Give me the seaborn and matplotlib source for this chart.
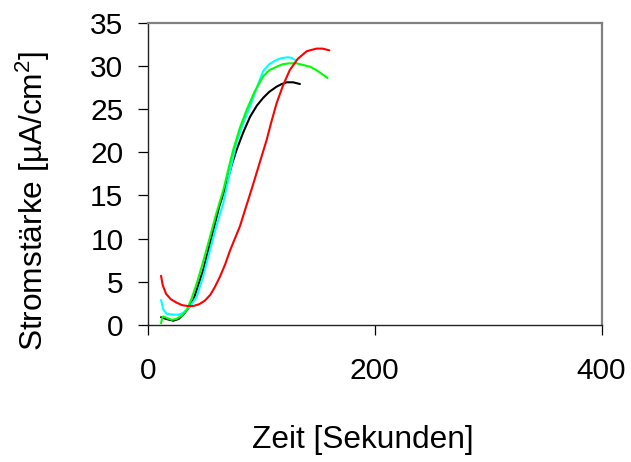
import numpy as np
import pandas as pd
import matplotlib
matplotlib.use("Agg")
import matplotlib.pyplot as plt
import seaborn as sns

# Data
black_x = [11.5, 16, 22.3, 27, 31, 36, 40, 44, 48.8, 53, 57.6, 63, 69.4, 74, 78.2, 84, 90, 96, 101.6, 107, 113.5, 118, 122.3, 128, 134]
black_y = [0.9, 0.7, 0.5, 0.7, 1.2, 2.0, 2.9, 4.5, 6.4, 8.6, 11.0, 13.8, 16.4, 18.6, 20.3, 22.3, 24.1, 25.4, 26.3, 27.0, 27.6, 27.9, 28.1, 28.1, 27.9]

cyan_x = [11.5, 13.5, 16.5, 22, 27, 31, 37, 43, 49, 54.7, 60, 66.4, 72, 78, 84, 90, 96, 101.6, 107, 113.5, 118, 123.7, 127, 129.6]
cyan_y = [2.9, 1.8, 1.3, 1.2, 1.2, 1.4, 2.1, 3.3, 5.8, 8.7, 11.3, 14.1, 17.6, 21.1, 23.4, 25.3, 27.5, 29.4, 30.2, 30.7, 30.9, 31.0, 30.9, 30.7]

green_x = [11.5, 12.5, 13.5, 17, 21, 25, 30, 34, 38, 43, 49, 54.7, 60, 66.4, 71, 75.2, 81, 87, 94, 101.6, 107, 113.5, 119, 125, 131, 137, 143, 148.7, 153, 158.4]
green_y = [0.2, 0.8, 1.0, 0.8, 0.6, 0.7, 1.1, 1.7, 2.9, 4.8, 7.5, 10.2, 12.8, 15.6, 18.1, 20.3, 22.8, 24.9, 27.0, 28.8, 29.5, 29.9, 30.2, 30.3, 30.3, 30.1, 29.9, 29.5, 29.1, 28.6]

red_x = [11.5, 13, 16, 20, 25, 30, 35, 40, 45, 50, 55, 59, 63.5, 68, 72, 76, 81, 87, 93, 99, 104.6, 109, 113.5, 119, 125, 132, 140, 148.7, 154, 160]
red_y = [5.7, 4.6, 3.6, 3.0, 2.6, 2.3, 2.2, 2.2, 2.4, 2.8, 3.5, 4.4, 5.6, 7.0, 8.5, 9.8, 11.4, 13.9, 16.4, 19.0, 21.4, 23.6, 25.7, 27.7, 29.5, 30.8, 31.7, 32.0, 32.0, 31.8]

x_ticks = [0, 200, 400]
y_ticks = [0, 5, 10, 15, 20, 25, 30, 35]

series = {"black": (black_x, black_y), "cyan": (cyan_x, cyan_y),
          "green": (green_x, green_y), "red": (red_x, red_y)}
frames = []
for name, (xs, ys) in series.items():
    frames.append(pd.DataFrame({"Zeit": xs, "Strom": ys, "Serie": name}))
df = pd.concat(frames, ignore_index=True)

sns.set_style("white")
plt.rcParams['font.family'] = ['Liberation Sans', 'DejaVu Sans']
plt.rcParams['mathtext.fontset'] = 'custom'
plt.rcParams['mathtext.rm'] = 'Liberation Sans'
plt.rcParams['mathtext.it'] = 'Liberation Sans:italic'
plt.rcParams['mathtext.default'] = 'regular'
plt.rcParams['text.color'] = 'black'

fig = plt.figure(figsize=(6.31, 4.62), dpi=100)
ax = fig.add_axes([148/631, 1-325/462, (601.5-148)/631, (325-22.7)/462])

palette = {"black": "#000000", "cyan": "#00FFFF", "green": "#00FF00", "red": "#FF0000"}
sns.lineplot(data=df, x="Zeit", y="Strom", hue="Serie", palette=palette,
             sort=False, estimator=None, linewidth=1.5, legend=False, ax=ax)

ax.set_xlim(0, 400)
ax.set_ylim(0, 35)
ax.set_xticks(x_ticks)
ax.set_yticks(y_ticks)
ax.tick_params(axis='both', direction='out', length=7.2, width=0.9, color='black',
               labelsize=21.5, labelcolor='black', left=True, bottom=True)
ax.tick_params(axis='x', pad=16)
ax.tick_params(axis='y', pad=10.5)

for s in ['left', 'bottom']:
    ax.spines[s].set_color('#222222')
    ax.spines[s].set_linewidth(1.0)
for s in ['top', 'right']:
    ax.spines[s].set_color('#808080')
    ax.spines[s].set_linewidth(1.6)

ax.set_xlabel("Zeit [Sekunden]", fontsize=22.8, color='black', va='center')
ax.set_ylabel("Stromstärke [µA/cm$^2$]", fontsize=22.8, color='black', va='center')
ax.xaxis.set_label_coords((363-148)/453.5, (325-440)/302.3)
ax.yaxis.set_label_coords((33-148)/453.5, (325-201)/302.3)

fig.savefig("out.png", dpi=100)
